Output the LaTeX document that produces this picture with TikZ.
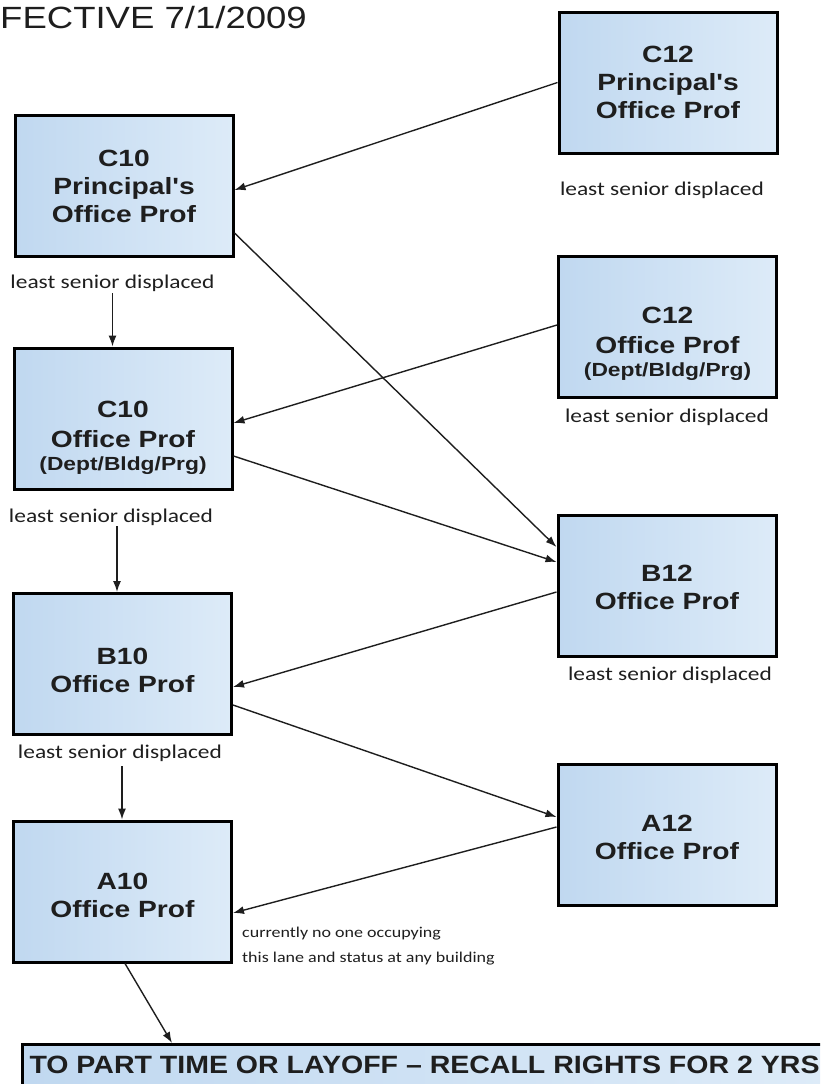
\documentclass[tikz,border=0pt]{standalone}
\usepackage{fontspec}
\usepackage{graphicx}
\setmainfont{Liberation Sans}[Ligatures=TeXOff]
\newfontfamily\calibfont{Carlito}
\usetikzlibrary{arrows.meta}

\definecolor{boxL}{HTML}{C0D8F0}
\definecolor{boxR}{HTML}{DDEBF8}
\definecolor{ink}{HTML}{1E1E1E}

% the whole chart is set slightly wide
\newcommand\stretchx[1]{\scalebox{1.2}[1]{#1}}

\tikzset{
  officebox/.style={draw=black, line width=3pt, left color=boxL, right color=boxR,
    minimum width=218pt, minimum height=141pt, inner sep=0pt},
  boxtext/.style={align=center, text=ink, inner sep=0pt,
    font=\bfseries\fontsize{23.5}{28}\selectfont},
  note/.style={text=ink, inner sep=0pt, font=\calibfont\fontsize{19.5}{23}\selectfont},
  smallnote/.style={text=ink, inner sep=0pt, align=left,
    font=\calibfont\fontsize{15}{25}\selectfont},
  link/.style={draw=ink, line width=1.4pt, -{Latex[length=11pt,width=8pt]}},
}

\begin{document}
\begin{tikzpicture}[x=1pt, y=-1pt]
\useasboundingbox (0,0) rectangle (820,1084);
\clip (0,0) rectangle (820,1084);

% heading
\node[anchor=base west, inner sep=0pt, text=ink,
      font=\fontsize{30.7}{36}\selectfont] (title) at (0,28)
      {\scalebox{1.19}[1]{FECTIVE 7/1/2009}};

% ---- class 10 column (left) ----
\node[officebox] (c10p) at (124,186) {};
\node[boxtext] (c10p-t) at (c10p.center)
  {\stretchx{C10}\\\stretchx{Principal's}\\\stretchx{Office Prof}};
\node[note, anchor=base] (c10p-n) at (112.5,288) {\stretchx{least senior displaced}};

\node[officebox] (c10o) at (123,418.5) {};
\node[boxtext] (c10o-t) at ([yshift=-19pt]c10o.center)
  {\stretchx{C10}\\[2pt]\stretchx{Office Prof}\\[-5pt]
   {\bfseries\fontsize{19}{23}\selectfont\stretchx{(Dept/Bldg/Prg)}}};
\node[note, anchor=base] (c10o-n) at (111,522) {\stretchx{least senior displaced}};

\node[officebox] (b10) at (122.5,664) {};
\node[boxtext] (b10-t) at ([yshift=-6pt]b10.center)
  {\stretchx{B10}\\\stretchx{Office Prof}};
\node[note, anchor=base] (b10-n) at (120,758) {\stretchx{least senior displaced}};

\node[officebox] (a10) at (122.5,891.5) {};
\node[boxtext] (a10-t) at ([yshift=-4pt]a10.center)
  {\stretchx{A10}\\\stretchx{Office Prof}};
\node[smallnote, anchor=north west] (a10-n) at (242,927)
  {\stretchx{currently no one occupying}\\\stretchx{this lane and status at any building}};

% ---- class 12 column (right) ----
\node[officebox] (c12p) at (668,82.5) {};
\node[boxtext] (c12p-t) at (c12p.center)
  {\stretchx{C12}\\\stretchx{Principal's}\\\stretchx{Office Prof}};
\node[note, anchor=base] (c12p-n) at (662,195) {\stretchx{least senior displaced}};

\node[officebox] (c12o) at (667.5,326.5) {};
\node[boxtext] (c12o-t) at ([yshift=-17pt]c12o.center)
  {\stretchx{C12}\\[2pt]\stretchx{Office Prof}\\[-5pt]
   {\bfseries\fontsize{19}{23}\selectfont\stretchx{(Dept/Bldg/Prg)}}};
\node[note, anchor=base] (c12o-n) at (667,422) {\stretchx{least senior displaced}};

\node[officebox] (b12) at (667,585.5) {};
\node[boxtext] (b12-t) at ([yshift=-2pt]b12.center)
  {\stretchx{B12}\\\stretchx{Office Prof}};
\node[note, anchor=base] (b12-n) at (670,680) {\stretchx{least senior displaced}};

\node[officebox] (a12) at (667,834.5) {};
\node[boxtext] (a12-t) at ([yshift=-3pt]a12.center)
  {\stretchx{A12}\\\stretchx{Office Prof}};

% ---- final outcome bar ----
\node[draw=black, line width=3pt, left color=boxL, right color=boxR,
      anchor=north west, inner xsep=7pt, inner ysep=12pt, text depth=10pt,
      text=ink, font=\bfseries\fontsize{25}{30}\selectfont] (lay) at (21,1043)
  {\resizebox{790pt}{\height}{TO PART TIME OR LAYOFF – RECALL RIGHTS FOR 2 YRS}};

% ---- displacement paths ----
\draw[link] (c12p.west) -- ([yshift=-4pt]c10p.east);
\draw[link] ([yshift=-47pt]c10p.east) -- ([yshift=38.5pt]b12.west);
\draw[link] ([yshift=1.5pt]c12o.west) -- ([yshift=-4.5pt]c10o.east);
\draw[link] ([yshift=-37.5pt]c10o.east) -- ([yshift=23.5pt]b12.west);
\draw[link] ([yshift=-6.5pt]b12.west) -- ([yshift=-23pt]b10.east);
\draw[link] ([yshift=-41pt]b10.east) -- ([yshift=17.5pt]a12.west);
\draw[link] ([yshift=7.5pt]a12.west) -- ([yshift=-21.5pt]a10.east);

\draw[link] ([yshift=-2pt]c10p-n.south) -- (c10p-n.south |- c10o.north);
\draw[link] ([xshift=6pt,yshift=-1pt]c10o-n.south) -- ([xshift=6pt]c10o-n.south |- b10.north);
\draw[link] ([xshift=2pt,yshift=-5pt]b10-n.south) -- ([xshift=2pt]b10-n.south |- a10.north);

\draw[link] ([xshift=2.5pt]a10.south) -- ([xshift=151pt]lay.north west);
\end{tikzpicture}
\end{document}
